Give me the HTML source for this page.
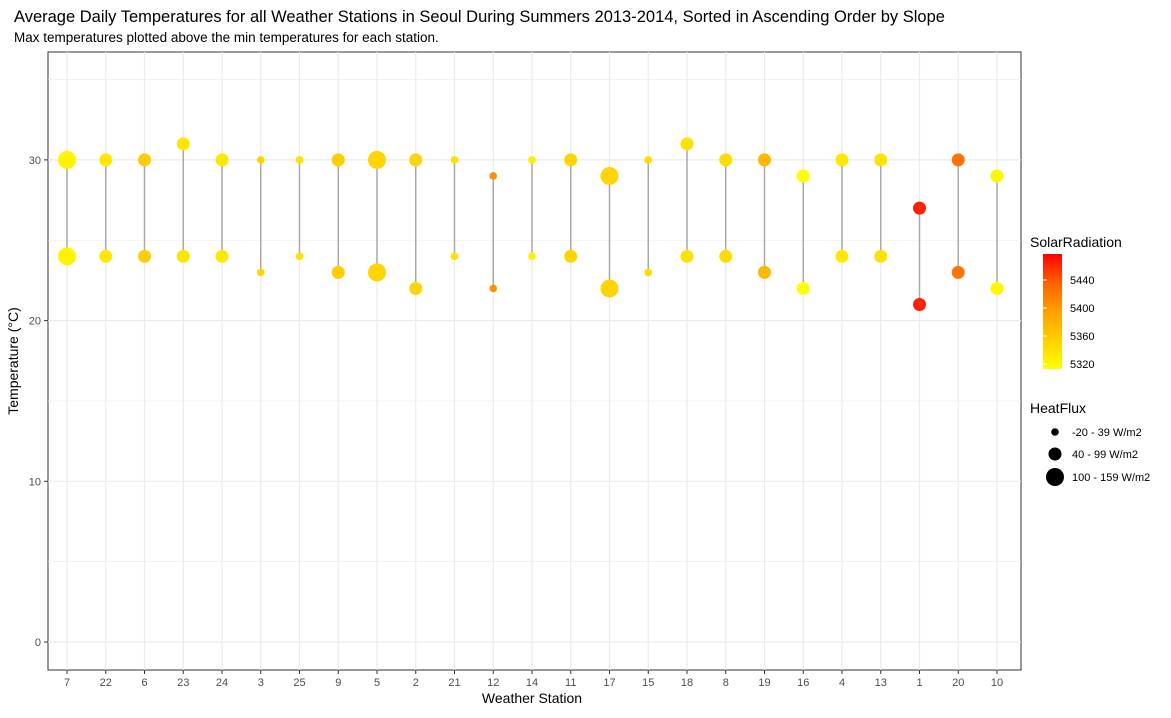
<!DOCTYPE html>
<html><head><meta charset="utf-8"><style>
body{margin:0;background:#fff;font-family:"Liberation Sans",Arial,sans-serif;}
svg text{font-family:"Liberation Sans",Arial,sans-serif;}
</style></head><body>
<svg id="chart" width="1171" height="713" xmlns="http://www.w3.org/2000/svg">
<text x="14" y="22" font-size="16.5" fill="#000">Average Daily Temperatures for all Weather Stations in Seoul During Summers 2013-2014, Sorted in Ascending Order by Slope</text>
<text x="14" y="42" font-size="13.5" fill="#000">Max temperatures plotted above the min temperatures for each station.</text>
<rect x="48" y="52" width="973" height="618" fill="#fff" stroke="#333" stroke-width="1"/>
<g id="grid"></g><g id="segs"></g><g id="pts"></g><g id="axes"></g>
<text x="532" y="703" font-size="14" text-anchor="middle">Weather Station</text>
<text transform="translate(18,361) rotate(-90)" font-size="14" text-anchor="middle">Temperature (°C)</text>
<g>
<text x="1030" y="247" font-size="14">SolarRadiation</text>
<defs><linearGradient id="sg" x1="0" y1="1" x2="0" y2="0"><stop offset="0" stop-color="#ffff00"/><stop offset="0.25" stop-color="#ffd000"/><stop offset="0.5" stop-color="#ffa000"/><stop offset="0.75" stop-color="#ff6000"/><stop offset="1" stop-color="#ff0000"/></linearGradient></defs>
<rect x="1043" y="254" width="19" height="115" fill="url(#sg)"/>
<g id="cbticks"></g>
</g>
<g>
<text x="1030" y="413" font-size="14">HeatFlux</text>
<circle cx="1055" cy="432" r="3.8" fill="#000"/>
<text x="1072" y="436" font-size="11">-20 - 39 W/m2</text>
<circle cx="1055" cy="454" r="6.5" fill="#000"/>
<text x="1072" y="458" font-size="11">40 - 99 W/m2</text>
<circle cx="1055" cy="477" r="9" fill="#000"/>
<text x="1072" y="481" font-size="11">100 - 159 W/m2</text>
</g>
</svg>
<script>
const stations=["7","22","6","23","24","3","25","9","5","2","21","12","14","11","17","15","18","8","19","16","4","13","1","20","10"];
const maxTemp=[30,30,30,31,30,30,30,30,30,30,30,29,30,30,29,30,31,30,30,29,30,30,27,30,29];
const minTemp=[24,24,24,24,24,23,24,23,23,22,24,22,24,24,22,23,24,24,23,22,24,24,21,23,22];
const heatClass=[2,1,1,1,1,0,0,1,2,1,0,0,0,1,2,0,1,1,1,1,1,1,1,1,1];
const solar=[5322,5330,5350,5332,5330,5345,5335,5350,5345,5345,5335,5392,5325,5345,5345,5340,5335,5340,5365,5312,5330,5335,5462,5412,5320];
const yTicks=[0,10,20,30];
const cbTicks=[5320,5360,5400,5440];
const NS="http://www.w3.org/2000/svg";
const x=i=>67+i*38.75;
const y=v=>642-v*16.07;
const cby=v=>364-(v-5320)*0.7;
const radii=[3.8,6.5,9];
function col(v){let t=Math.max(0,Math.min(1,(v-5313)/(5477-5313)));let g=Math.round(255*Math.pow(1-t,0.85));return `rgb(255,${g},0)`;}
function mk(tag,attrs,parent){const e=document.createElementNS(NS,tag);for(const k in attrs)e.setAttribute(k,attrs[k]);document.getElementById(parent).appendChild(e);return e;}
const grid="grid";
for(let v=-5;v<=35;v+=5){if(y(v)<52||y(v)>670)continue;const l=mk("line",{x1:48,x2:1021,y1:y(v),y2:y(v),stroke:"#ebebeb","stroke-width":v%10===0?1.2:0.6},grid);

}
stations.forEach((s,i)=>{const l=mk("line",{x1:x(i),x2:x(i),y1:52,y2:670,stroke:"#ebebeb","stroke-width":1.2},grid);


const t=mk("line",{x1:x(i),x2:x(i),y1:670,y2:674,stroke:"#333"},"axes");


const lb=mk("text",{x:x(i),y:686,"font-size":11,fill:"#4d4d4d","text-anchor":"middle"},"axes");lb.textContent=s;


const sg=mk("line",{x1:x(i),x2:x(i),y1:y(maxTemp[i]),y2:y(minTemp[i]),stroke:"#aaa","stroke-width":1.5},"segs");


const c=col(solar[i]),r=radii[heatClass[i]];
const p1=mk("circle",{cx:x(i),cy:y(maxTemp[i]),r:r,fill:c},"pts");


const p2=mk("circle",{cx:x(i),cy:y(minTemp[i]),r:r,fill:c},"pts");

});
yTicks.forEach(v=>{const t=mk("line",{x1:44,x2:48,y1:y(v),y2:y(v),stroke:"#333"},"axes");


const lb=mk("text",{x:41,y:y(v)+4,"font-size":11,fill:"#4d4d4d","text-anchor":"end"},"axes");lb.textContent=v;

});
cbTicks.forEach(v=>{const t=mk("line",{x1:1043,x2:1047,y1:cby(v),y2:cby(v),stroke:"#fff"},"cbticks");


const lb=mk("text",{x:1070,y:cby(v)+4,"font-size":11,fill:"#000"},"cbticks");lb.textContent=v;

});
</script>
</body></html>
